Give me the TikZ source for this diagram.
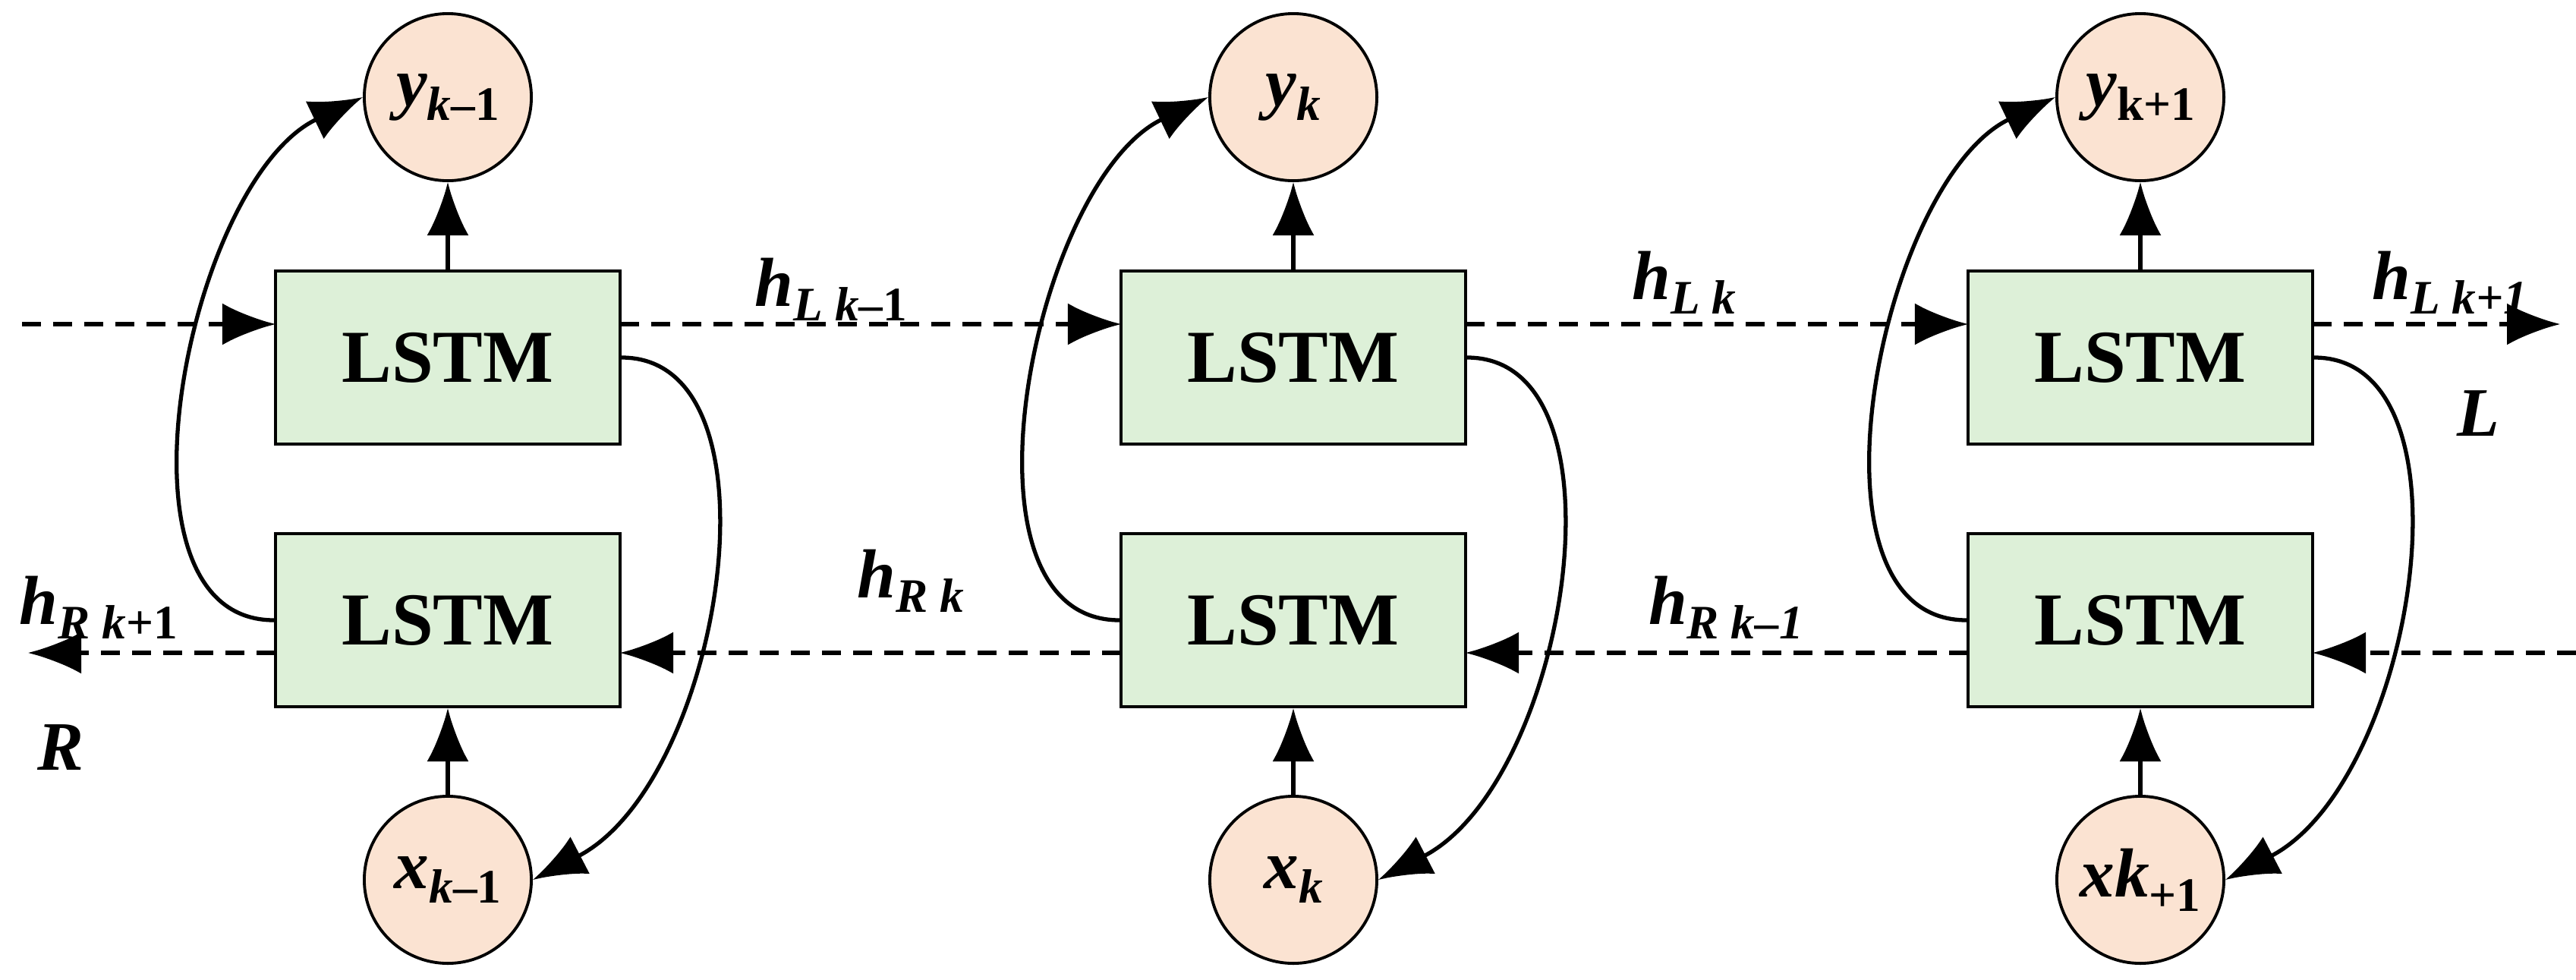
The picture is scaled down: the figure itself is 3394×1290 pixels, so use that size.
\documentclass[tikz,border=0pt]{standalone}
\usepackage{fontspec}
\setmainfont{Liberation Serif}
\usetikzlibrary{arrows.meta}
\definecolor{boxgreen}{HTML}{DDF0D8}
\definecolor{peach}{HTML}{FBE3D2}
\newcommand\lab[2]{\textbf{\textit{#1}}\raisebox{-0.45ex}{\fontsize{18}{18}\selectfont\textbf{\textit{#2}}}}
\tikzset{
  lstm/.style={draw, fill=boxgreen, line width=1.1pt, minimum width=4.54cm, minimum height=2.28cm, inner sep=0pt, font=\fontsize{28}{28}\selectfont\bfseries},
  io/.style={draw, fill=peach, circle, line width=1.1pt, minimum size=2.2cm, inner sep=0pt, font=\fontsize{26}{26}\selectfont},
  arr/.style={line width=1.5pt, -{Latex[length=0.7cm,width=0.55cm]}},
  darr/.style={arr, dash pattern=on 0.25cm off 0.16cm},
  lbl/.style={font=\fontsize{26}{26}\selectfont, inner sep=0pt}
}
\begin{document}
\begin{tikzpicture}[x=0.01cm,y=-0.01cm]
\useasboundingbox (0,0) rectangle (3394,1290);
\foreach \i/\x in {1/590,2/1704,3/2820}{
  \node[lstm] (t\i) at (\x,471) {LSTM};
  \node[lstm] (b\i) at (\x,817) {LSTM};
  \coordinate (tw\i) at (\x-227,427);
  \coordinate (te\i) at (\x+227,427);
  \coordinate (bw\i) at (\x-227,860);
  \coordinate (be\i) at (\x+227,860);
}
\node[io] (y1) at (590,128) {\textbf{\textit{y}}\raisebox{-0.45ex}{\fontsize{18}{18}\selectfont\textbf{\textit{k}–1}}};
\node[io] (y2) at (1704,128) {\textbf{\textit{y}}\raisebox{-0.45ex}{\fontsize{18}{18}\selectfont\textbf{\textit{k}}}};
\node[io] (y3) at (2820,128) {\textbf{\textit{y}}\raisebox{-0.45ex}{\fontsize{18}{18}\selectfont\textbf{k+1}}};
\node[io] (x1) at (590,1159) {\textbf{\textit{x}}\raisebox{-0.45ex}{\fontsize{18}{18}\selectfont\textbf{\textit{k}–1}}};
\node[io] (x2) at (1704,1159) {\textbf{\textit{x}}\raisebox{-0.45ex}{\fontsize{18}{18}\selectfont\textbf{\textit{k}}}};
\node[io] (x3) at (2820,1159) {\textbf{\textit{xk}}\raisebox{-0.45ex}{\fontsize{18}{18}\selectfont\textbf{+1}}};
\coordinate (lstart) at (29,427);
\coordinate (lend) at (3373,427);
\coordinate (rstart) at (3394,860);
\coordinate (rend) at (37,860);
\foreach \i in {1,2,3}{
  \draw[arr] (t\i) -- (y\i);
  \draw[arr] (x\i) -- (b\i);
  \draw[arr] (b\i.west) .. controls +(-230,0) and +(-230,110) .. (y\i.west);
  \draw[arr] (t\i.east) .. controls +(220,0) and +(250,-130) .. (x\i.east);
}
\draw[darr] (lstart) -- (tw1);
\draw[darr] (te1) -- (tw2);
\draw[darr] (te2) -- (tw3);
\draw[darr] (te3) -- (lend);
\draw[darr] (rstart) -- (be3);
\draw[darr] (bw3) -- (be2);
\draw[darr] (bw2) -- (be1);
\draw[darr] (bw1) -- (rend);
\node[lbl] (l1) at (1095,381) {\lab{h}{L k}\raisebox{-0.45ex}{\fontsize{18}{18}\selectfont\textbf{–1}}};
\node[lbl] (l2) at (2219,372) {\lab{h}{L k}};
\node[lbl] (l3) at (3228,372) {\lab{h}{L k+1}};
\node[lbl] (r1) at (130,800) {\lab{h}{R k}\raisebox{-0.45ex}{\fontsize{18}{18}\selectfont\textbf{+1}}};
\node[lbl] (r2) at (1200,765) {\lab{h}{R k}};
\node[lbl] (r3) at (2274,800) {\lab{h}{R k–1}};
\node[lbl] (LL) at (3265,545) {\textbf{\textit{L}}};
\node[lbl] (RR) at (80,985) {\textbf{\textit{R}}};
\end{tikzpicture}
\end{document}
